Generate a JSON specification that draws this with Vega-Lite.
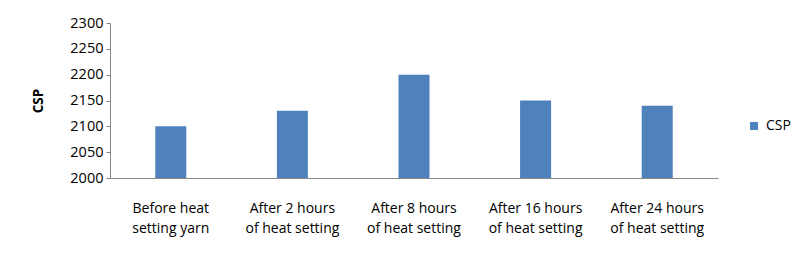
{
  "$schema": "https://vega.github.io/schema/vega-lite/v6.json",
  "width": 608,
  "height": 155,
  "autosize": "none",
  "padding": {"left": 110, "top": 23, "right": 90, "bottom": 79},
  "background": "white",
  "config": {
    "view": {"stroke": null},
    "font": "Open Sans",
    "axis": {"labelFont": "Open Sans", "titleFont": "Open Sans", "labelColor": "#000", "titleColor": "#000", "domainColor": "#868686", "tickColor": "#868686", "grid": false}
  },
  "data": {
    "values": [
      {"stage": "Before heat|setting yarn", "order": 1, "csp": 2100, "series": "CSP"},
      {"stage": "After 2 hours|of heat setting", "order": 2, "csp": 2130, "series": "CSP"},
      {"stage": "After 8 hours|of heat setting", "order": 3, "csp": 2200, "series": "CSP"},
      {"stage": "After 16 hours|of heat setting", "order": 4, "csp": 2150, "series": "CSP"},
      {"stage": "After 24 hours|of heat setting", "order": 5, "csp": 2140, "series": "CSP"}
    ]
  },
  "mark": {"type": "bar", "clip": true},
  "encoding": {
    "x": {
      "field": "stage", "type": "nominal", "sort": {"field": "order"},
      "scale": {"paddingInner": 0.745, "paddingOuter": 0.3725},
      "axis": {"title": null, "labelAngle": 0, "labelExpr": "split(datum.label, '|')", "labelFontSize": 14, "labelPadding": 30, "labelLineHeight": 20, "ticks": false, "labelBaseline": "middle"}
    },
    "y": {
      "field": "csp", "type": "quantitative",
      "scale": {"domain": [2000, 2300], "zero": false},
      "axis": {"title": "CSP", "titleFontSize": 13.5, "titleFontWeight": "bold", "titlePadding": 24, "format": "d", "values": [2000, 2050, 2100, 2150, 2200, 2250, 2300], "labelFontSize": 14.5, "tickSize": 4, "labelPadding": 3}
    },
    "color": {
      "field": "series", "type": "nominal",
      "scale": {"range": ["#4F81BD"]},
      "legend": {"title": null, "orient": "none", "legendX": 637, "legendY": 96, "symbolType": "square", "symbolSize": 64, "symbolStrokeWidth": 0, "labelFontSize": 14, "labelFont": "Open Sans", "labelColor": "#000", "labelOffset": 5}
    }
  }
}
